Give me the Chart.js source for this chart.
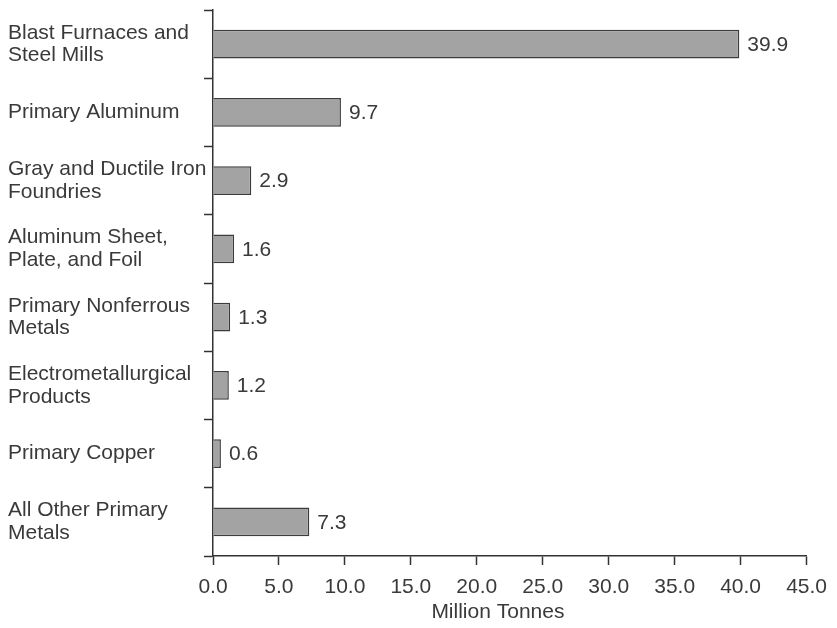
<!DOCTYPE html>
<html>
<head>
<meta charset="utf-8">
<script src="https://cdn.jsdelivr.net/npm/chart.js@4"></script>
<style>
  html, body { margin: 0; padding: 0; background: #ffffff; }
  #wrap { width: 837px; height: 628px; position: relative; }
</style>
</head>
<body>
<div id="wrap"><canvas id="c" width="837" height="628"></canvas></div>
<script>
// Energy use by primary metals industry segment
const categories = [
  ["Blast Furnaces and", "Steel Mills"],
  "Primary Aluminum",
  ["Gray and Ductile Iron", "Foundries"],
  ["Aluminum Sheet,", "Plate, and Foil"],
  ["Primary Nonferrous", "Metals"],
  ["Electrometallurgical", "Products"],
  "Primary Copper",
  ["All Other Primary", "Metals"]
];
const values = [39.9, 9.7, 2.9, 1.6, 1.3, 1.2, 0.6, 7.3];
const xTicks = [0, 5, 10, 15, 20, 25, 30, 35, 40, 45];
const axisTitle = "Million Tonnes";

const TEXT = "#3a3a3a";
const LINE = "#333333";
const FONT = "'Liberation Sans', Arial, Helvetica, sans-serif";
const SIZE = 21;

// Writes each bar's value just past its end, and the x-axis title
const annotations = {
  id: "annotations",
  afterDraw(chart) {
    const ctx = chart.ctx;
    const meta = chart.getDatasetMeta(0);
    ctx.save();
    ctx.font = SIZE + "px " + FONT;
    ctx.fillStyle = TEXT;
    ctx.textAlign = "left";
    ctx.textBaseline = "middle";
    meta.data.forEach((bar, i) => {
      ctx.fillText(values[i].toFixed(1), bar.x + 8, bar.y + 1);
    });
    const xs = chart.scales.x;
    ctx.textAlign = "center";
    ctx.fillText(axisTitle, xs.getPixelForValue(21.6), 612);
    ctx.restore();
  }
};

new Chart(document.getElementById("c"), {
  type: "bar",
  data: {
    labels: categories,
    datasets: [{
      data: values,
      backgroundColor: "#a3a3a3",
      borderColor: "#3c3c3c",
      borderWidth: 1.5,
      barPercentage: 0.42,
      categoryPercentage: 1
    }]
  },
  options: {
    indexAxis: "y",
    responsive: false,
    animation: false,
    devicePixelRatio: 1,
    layout: { padding: { left: 8, top: 10, right: 27, bottom: 0 } },
    plugins: {
      legend: { display: false },
      tooltip: { enabled: false }
    },
    scales: {
      x: {
        type: "linear",
        position: "bottom",
        min: 0,
        max: 45,
        afterBuildTicks(scale) {
          scale.ticks = xTicks.map(v => ({ value: v }));
        },
        afterFit(scale) { scale.height = 72; },
        ticks: {
          color: TEXT,
          font: { family: FONT, size: SIZE },
          padding: 10,
          maxRotation: 0,
          autoSkip: false,
          callback: v => Number(v).toFixed(1)
        },
        grid: {
          drawOnChartArea: false,
          drawTicks: true,
          tickLength: 9,
          tickWidth: 1.5,
          tickColor: LINE,
          offset: false
        },
        border: { display: true, color: LINE, width: 1.5 }
      },
      y: {
        type: "category",
        position: "left",
        afterFit(scale) {
          scale.width = 205;
          scale.paddingTop = 0;
          scale.paddingBottom = 0;
        },
        ticks: {
          color: TEXT,
          font: { family: FONT, size: SIZE, lineHeight: 1.08 },
          crossAlign: "far",
          padding: 0,
          autoSkip: false
        },
        grid: {
          drawOnChartArea: false,
          drawTicks: true,
          tickLength: 9,
          tickWidth: 1.5,
          tickColor: LINE,
          offset: true
        },
        border: { display: true, color: LINE, width: 1.5 }
      }
    }
  },
  plugins: [annotations]
});
</script>
</body>
</html>
